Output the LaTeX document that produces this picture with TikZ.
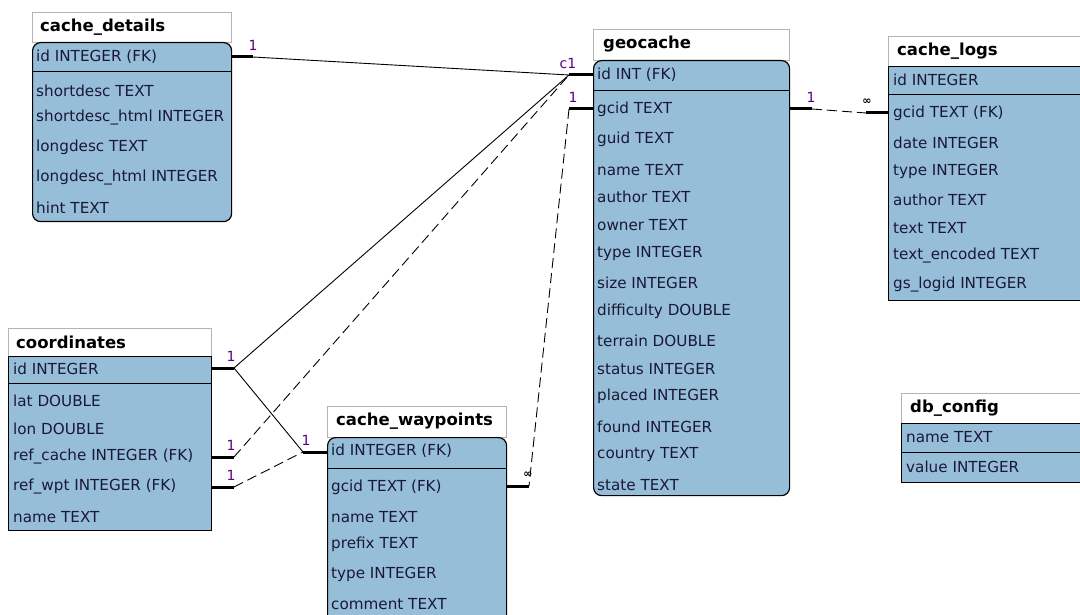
\documentclass[tikz,border=0pt]{standalone}
\usepackage{fontspec}
\setmainfont{DejaVu Sans}
\definecolor{tblue}{RGB}{151,190,216}
\definecolor{lblpurple}{RGB}{90,0,130}
\definecolor{txt}{RGB}{25,25,55}
\definecolor{tgray}{RGB}{180,180,180}
\tikzset{
  ttlbox/.style={draw=tgray, fill=white, line width=0.8pt, anchor=north west, inner sep=0},
  tbody/.style={draw=black, fill=tblue, line width=1.2pt, anchor=north west, inner sep=0},
  tround/.style={tbody, rounded corners=8pt},
  sepline/.style={line width=1pt},
  row/.style={anchor=west, font=\fontsize{15.2}{17}\selectfont, text=txt, inner sep=0},
  ttl/.style={anchor=west, font=\bfseries\fontsize{16.5}{19}\selectfont, text=black, inner sep=0},
  stub/.style={line width=3pt},
  rel/.style={line width=0.9pt},
  reld/.style={rel, dash pattern=on 10pt off 5pt},
  card/.style={text=lblpurple, font=\fontsize{14}{16}\selectfont, inner sep=0},
  inf/.style={text=black, font=\bfseries\fontsize{11}{12}\selectfont, inner sep=0},
}
\begin{document}
\begin{tikzpicture}[x=1pt,y=-1pt]
\path[use as bounding box] (0,0) rectangle (1080,615);
\clip (0,0) rectangle (1080,615);
% ---------- cache_details ----------
\node[ttlbox, minimum width=199pt, minimum height=30pt] (cdT) at (32,12) {};
\node[tround, minimum width=199pt, minimum height=179pt] (cdB) at (32,42) {};
\draw[sepline] (32,72) -- (231,72);
\node[ttl] (cdt) at (40,27) {cache\_details};
\node[row] (cd1) at (36,57) {id INTEGER (FK)};
\node[row] (cd2) at (36,91) {shortdesc TEXT};
\node[row] (cd3) at (36,118) {shortdesc\_html INTEGER};
\node[row] (cd4) at (36,147) {longdesc TEXT};
\node[row] (cd5) at (36,178) {longdesc\_html INTEGER};
\node[row] (cd6) at (36,208) {hint TEXT};
% ---------- geocache ----------
\node[ttlbox, minimum width=196pt, minimum height=31pt] (gcT) at (593,29) {};
\node[tround, minimum width=196pt, minimum height=435pt] (gcB) at (593,60) {};
\draw[sepline] (593,91) -- (789,91);
\node[ttl] (gct) at (603,44) {geocache};
\node[row] (gc1) at (597,75) {id INT (FK)};
\foreach \t/\y [count=\i from 2] in {gcid TEXT/109, guid TEXT/139, name TEXT/170, author TEXT/197, owner TEXT/225, type INTEGER/253, size INTEGER/283, difficulty DOUBLE/311, terrain DOUBLE/341, status INTEGER/369, placed INTEGER/396, found INTEGER/427, country TEXT/455, state TEXT/485}
  \node[row] (gc\i) at (597,\y) {\t};
% ---------- cache_logs ----------
\node[ttlbox, minimum width=210pt, minimum height=30pt] (clT) at (888,36) {};
\node[tbody, minimum width=210pt, minimum height=234pt] (clB) at (888,66) {};
\draw[sepline] (888,95) -- (1098,95);
\node[ttl] (clt) at (897,51) {cache\_logs};
\node[row] (cl1) at (893,80) {id INTEGER};
\node[row] (cl2) at (893,113) {gcid TEXT (FK)};
\foreach \t/\y [count=\i from 3] in {date INTEGER/143, type INTEGER/171, author TEXT/200, text TEXT/228, text\_encoded TEXT/256, gs\_logid INTEGER/285}
  \node[row] (cl\i) at (893,\y) {\t};
% ---------- coordinates ----------
\node[ttlbox, minimum width=203pt, minimum height=28pt] (coT) at (8,328) {};
\node[tbody, minimum width=203pt, minimum height=174pt] (coB) at (8,356) {};
\draw[sepline] (8,383) -- (211,383);
\node[ttl] (cot) at (16,342) {coordinates};
\node[row] (co1) at (13,369) {id INTEGER};
\node[row] (co2) at (13,401) {lat DOUBLE};
\node[row] (co3) at (13,429) {lon DOUBLE};
\node[row] (co4) at (13,457) {ref\_cache INTEGER (FK)};
\node[row] (co5) at (13,487) {ref\_wpt INTEGER (FK)};
\node[row] (co6) at (13,517) {name TEXT};
% ---------- cache_waypoints ----------
\node[ttlbox, minimum width=179pt, minimum height=31pt] (cwT) at (327,406) {};
\node[tround, minimum width=179pt, minimum height=190pt] (cwB) at (327,437) {};
\draw[sepline] (327,468) -- (506,468);
\node[ttl] (cwt) at (336,421) {cache\_waypoints};
\node[row] (cw1) at (331,451) {id INTEGER (FK)};
\node[row] (cw2) at (331,487) {gcid TEXT (FK)};
\node[row] (cw3) at (331,517) {name TEXT};
\node[row] (cw4) at (331,544) {prefix TEXT};
\node[row] (cw5) at (331,574) {type INTEGER};
\node[row] (cw6) at (331,604) {comment TEXT};
% ---------- db_config ----------
\node[ttlbox, minimum width=200pt, minimum height=30pt] (dbT) at (901,393) {};
\node[tbody, minimum width=200pt, minimum height=59pt] (dbB) at (901,423) {};
\draw[sepline] (901,452) -- (1101,452);
\node[ttl] (dbt) at (910,408) {db\_config};
\node[row] (db1) at (906,437) {name TEXT};
\node[row] (db2) at (906,467) {value INTEGER};
% ---------- connector points ----------
\coordinate (pCD) at (253,57);   \coordinate (eCD) at (231,57);
\coordinate (pGid) at (569,75);  \coordinate (eGid) at (593,75);
\coordinate (pGg) at (569,109);  \coordinate (eGg) at (593,109);
\coordinate (pGr) at (812,109);  \coordinate (eGr) at (789,109);
\coordinate (pCL) at (866,113);  \coordinate (eCL) at (888,113);
\coordinate (pCo1) at (234,368); \coordinate (eCo1) at (211,368);
\coordinate (pCo4) at (234,457); \coordinate (eCo4) at (211,457);
\coordinate (pCo5) at (234,487); \coordinate (eCo5) at (211,487);
\coordinate (pCw1) at (303,452); \coordinate (eCw1) at (327,452);
\coordinate (pCw2) at (529,486); \coordinate (eCw2) at (506,486);
% stubs
\foreach \a/\b in {eCD/pCD, eGid/pGid, eGg/pGg, eGr/pGr, eCL/pCL, eCo1/pCo1, eCo4/pCo4, eCo5/pCo5, eCw1/pCw1, eCw2/pCw2}
  \draw[stub] (\a) -- (\b);
% relations
\draw[rel] (pCD) -- (pGid);
\draw[rel] (pCo1) -- (pGid);
\draw[rel] (pCo1) -- (pCw1);
\draw[reld] (pCo4) -- (pGid);
\draw[reld] (pCo5) -- (pCw1);
\draw[reld] (pGg) -- (pCw2);
\draw[reld] (pGr) -- (pCL);
% cardinality labels
\node[card] (k1) at (253,45) {1};
\node[card] (k2) at (568,63) {c1};
\node[card] (k3) at (573,97) {1};
\node[card] (k4) at (811,97) {1};
\node[inf] (k5) at (867,102) {∞};
\node[card] (k6) at (231,356) {1};
\node[card] (k7) at (231,445) {1};
\node[card] (k8) at (231,475) {1};
\node[card] (k9) at (306,440) {1};
\node[inf] (k10) at (528,475) {∞};
\end{tikzpicture}
\end{document}
